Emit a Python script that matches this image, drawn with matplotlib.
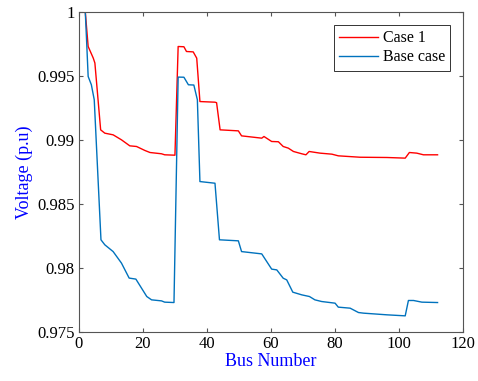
import matplotlib
matplotlib.use('Agg')
import matplotlib.pyplot as plt
from matplotlib.ticker import FuncFormatter

plt.rcParams.update({
    'font.family': 'Liberation Serif',
    'font.size': 12,
})

# breakpoints (bus number, voltage p.u.)
case1_bus = [1.0, 2.0, 2.9, 4.5, 5.0, 6.8, 8.1, 10.7, 13.3, 15.9, 18.0, 20.6,
             22.2, 25.8, 26.8, 30.0, 31.0, 32.8, 33.6, 35.7, 36.8, 37.8, 42.5,
             43.0, 44.1, 49.8, 50.8, 57.1, 57.8, 60.2, 62.3, 63.8, 65.4, 67.0,
             69.6, 70.9, 71.9, 75.3, 79.0, 81.0, 87.8, 96.2, 101.9, 103.2,
             105.5, 107.6, 112.0]
case1_v = [1.0, 1.0, 0.99729, 0.99638, 0.9960, 0.99078, 0.99052, 0.99039,
           0.9900, 0.98953, 0.98948, 0.98917, 0.98901, 0.98891, 0.98883,
           0.98880, 0.99729, 0.99727, 0.9969, 0.99687, 0.99638, 0.99299,
           0.99294, 0.99290, 0.99078, 0.9907, 0.99031, 0.99013, 0.99026,
           0.98987, 0.98985, 0.98948, 0.98935, 0.98909, 0.98891, 0.98883,
           0.98909, 0.98896, 0.98888, 0.98875, 0.98864, 0.98862, 0.98857,
           0.98901, 0.98896, 0.98883, 0.98883]

base_bus = [1.0, 2.0, 2.4, 2.9, 3.9, 4.8, 6.9, 8.1, 10.7, 13.3, 15.7, 17.8,
            21.2, 22.7, 25.8, 26.8, 29.7, 31.0, 32.8, 34.2, 35.9, 37.0, 37.8,
            42.5, 43.9, 49.8, 50.8, 57.1, 60.2, 61.8, 63.8, 64.9, 66.8, 69.6,
            72.0, 73.7, 75.8, 80.0, 81.0, 84.7, 87.3, 88.9, 96.2, 101.9, 102.9,
            104.5, 107.1, 112.0]
base_v = [1.0, 1.0, 0.9978, 0.99495, 0.9943, 0.99313, 0.98219, 0.9818,
          0.98127, 0.98037, 0.9792, 0.97912, 0.97776, 0.9775, 0.97742,
          0.97732, 0.97729, 0.9949, 0.99489, 0.9943, 0.99428, 0.99313,
          0.98674, 0.98661, 0.98219, 0.98211, 0.98127, 0.98109, 0.97990,
          0.97984, 0.97919, 0.97906, 0.9781, 0.97789, 0.97776, 0.9775,
          0.97737, 0.97724, 0.97693, 0.97685, 0.97651, 0.97646, 0.97633,
          0.97625, 0.97745, 0.97745, 0.97732, 0.97729]

fig = plt.figure(figsize=(4.78, 3.81), dpi=100)
ax = fig.add_axes([0.165, 0.129, 0.804, 0.840])

ax.plot(case1_bus, case1_v, color='#ff0000', linewidth=1.0, label='Case 1')
ax.plot(base_bus, base_v, color='#0072bd', linewidth=1.0, label='Base case')

ax.set_xlim(0, 120)
ax.set_ylim(0.975, 1.0)
ax.set_xticks(range(0, 121, 20))
ax.set_yticks([0.975, 0.98, 0.985, 0.99, 0.995, 1.0])
ax.yaxis.set_major_formatter(FuncFormatter(lambda v, p: f'{v:g}'))
ax.tick_params(direction='in', top=True, right=True, length=3, color='#555555',
               labelsize=12, pad=3)
for s in ax.spines.values():
    s.set_color('#555555')
    s.set_linewidth(0.8)

ax.set_xlabel('Bus Number', color='#0000ff', fontsize=13, labelpad=1)
ax.set_ylabel('Voltage (p.u)', color='#0000ff', fontsize=13, labelpad=3)

leg = ax.legend(loc='upper right', fontsize=11.5, fancybox=False, framealpha=1,
                edgecolor='#333333', handlelength=2.4, borderaxespad=0.8,
                handletextpad=0.3, labelspacing=0.2, borderpad=0.35)
leg.get_frame().set_linewidth(0.7)

plt.savefig('out.png', dpi=100)
